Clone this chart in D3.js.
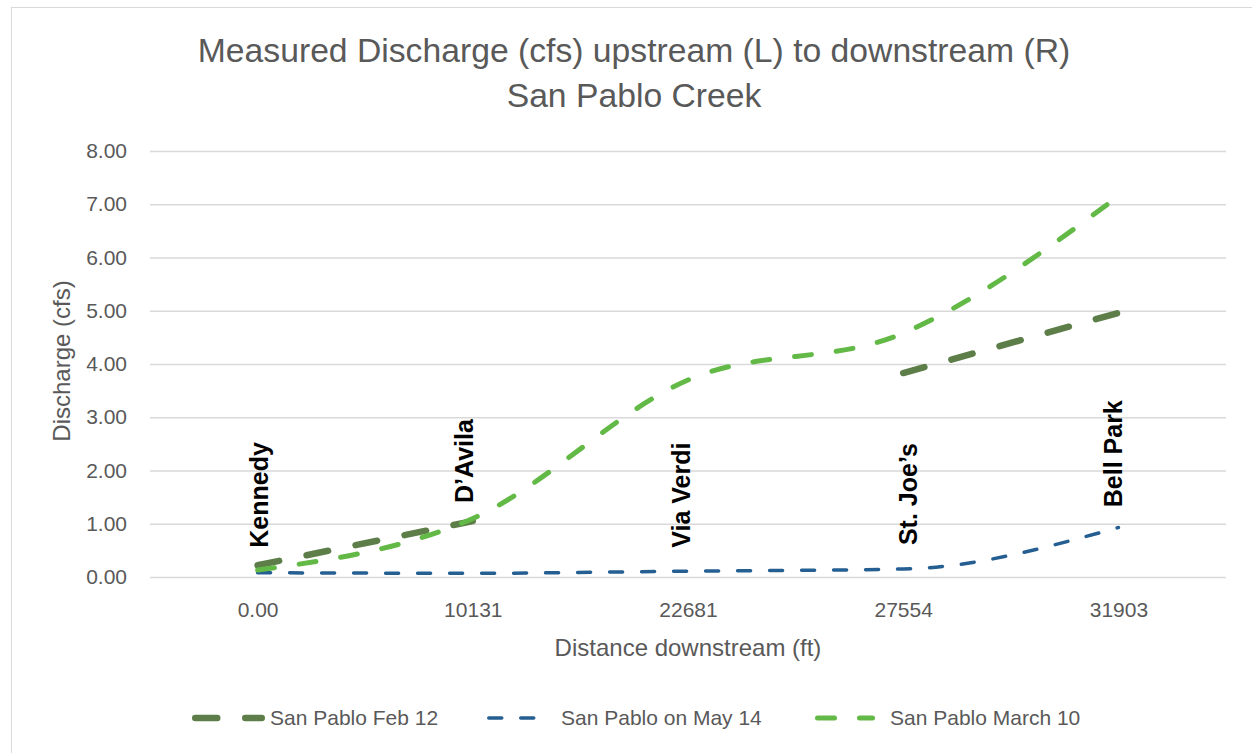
<!DOCTYPE html>
<html>
<head>
<meta charset="utf-8">
<script src="https://cdn.jsdelivr.net/npm/d3@7"></script>
<style>
  body { margin: 0; background: #fff; }
  svg text { font-family: "Liberation Sans", Arial, sans-serif; }
</style>
</head>
<body>
<div id="chart"></div>
<script>

// data
var distances = ["0.00", "10131", "22681", "27554", "31903"];
var stations = ["Kennedy", "D\u2019Avila", "Via Verdi", "St. Joe\u2019s", "Bell Park"];
var feb12 = [0.22, 1.05, null, 3.83, 4.96];
var may14 = [0.08, 0.07, 0.11, 0.15, 0.93];
var mar10 = [0.13, 1.10, 3.70, 4.58, 7.15];
var yTicks = [0, 1, 2, 3, 4, 5, 6, 7, 8];

var series = [
  { name: "San Pablo Feb 12", values: feb12, color: "#5d7e49", width: 6.5, dash: "22,28", legendX: 192, legendW: 73, textX: 270 },
  { name: "San Pablo on May 14", values: may14, color: "#255e91", width: 3.5, dash: "13,19", legendX: 487, legendW: 66, textX: 561 },
  { name: "San Pablo March 10", values: mar10, color: "#62b946", width: 5, dash: "17,25", legendX: 815, legendW: 60, textX: 890 }
];

// station label placement (bottom of text in data units, baseline shift in px)
var labelBottom = [0.55, 1.39, 0.55, 0.60, 1.31];
var labelDx = [10, 0, 2, 14, 4];

var margin = { left: 150, right: 26, top: 151, bottom: 176 };
var W = 1252, H = 753;
var width = W - margin.left - margin.right;
var height = H - margin.top - margin.bottom;

var svg = d3.select("#chart").append("svg")
  .attr("width", W)
  .attr("height", H);

// chart border
svg.append("rect")
  .attr("x", 11.5).attr("y", 7.5)
  .attr("width", 1400).attr("height", 900)
  .attr("fill", "none")
  .attr("stroke", "#d9d9d9")
  .attr("stroke-width", 1);

var g = svg.append("g")
  .attr("transform", "translate(" + margin.left + "," + margin.top + ")");

var x = d3.scalePoint()
  .domain(d3.range(distances.length))
  .range([0, width])
  .padding(0.5);

var y = d3.scaleLinear()
  .domain([0, 8])
  .range([height, 0]);

// gridlines
g.append("g")
  .attr("class", "grid")
  .call(d3.axisLeft(y).tickValues(yTicks).tickSize(-width).tickFormat(""))
  .call(function (s) {
    s.select(".domain").remove();
    s.selectAll("line").attr("stroke", "#d9d9d9").attr("stroke-width", 1.5);
  });

// y tick labels
g.append("g")
  .call(d3.axisLeft(y).tickValues(yTicks).tickSize(0).tickPadding(23).tickFormat(d3.format(".2f")))
  .call(function (s) {
    s.select(".domain").remove();
    s.selectAll("text").attr("fill", "#595959").style("font-size", "21px")
      .attr("font-family", "Liberation Sans, Arial, sans-serif");
  });

// x tick labels
g.append("g")
  .attr("transform", "translate(0," + height + ")")
  .call(d3.axisBottom(x).tickSize(0).tickPadding(25).tickFormat(function (i) { return distances[i]; }))
  .call(function (s) {
    s.select(".domain").remove();
    s.selectAll("text").attr("fill", "#595959").style("font-size", "21px")
      .attr("font-family", "Liberation Sans, Arial, sans-serif");
  });

// lines (smoothed)
var line = d3.line()
  .defined(function (d) { return d != null; })
  .x(function (d, i) { return x(i); })
  .y(function (d) { return y(d); })
  .curve(d3.curveMonotoneX);

series.forEach(function (s) {
  g.append("path")
    .attr("d", line(s.values))
    .attr("fill", "none")
    .attr("stroke", s.color)
    .attr("stroke-width", s.width)
    .attr("stroke-dasharray", s.dash)
    .attr("stroke-linecap", "round");
});

// station labels
g.selectAll(".station")
  .data(stations).enter()
  .append("text")
  .attr("class", "station")
  .attr("transform", function (d, i) {
    return "translate(" + (x(i) + labelDx[i]) + "," + y(labelBottom[i]) + ") rotate(-90)";
  })
  .attr("fill", "#000")
  .style("font-size", "25px")
  .style("font-weight", "bold")
  .text(function (d) { return d; });

// title
svg.append("text")
  .attr("x", 634).attr("y", 62)
  .attr("text-anchor", "middle")
  .attr("fill", "#595959")
  .style("font-size", "33.7px")
  .text("Measured Discharge (cfs) upstream (L) to downstream (R)");

svg.append("text")
  .attr("x", 634).attr("y", 107)
  .attr("text-anchor", "middle")
  .attr("fill", "#595959")
  .style("font-size", "33.7px")
  .text("San Pablo Creek");

// axis titles
svg.append("text")
  .attr("x", margin.left + width / 2).attr("y", 656)
  .attr("text-anchor", "middle")
  .attr("fill", "#595959")
  .style("font-size", "24px")
  .text("Distance downstream (ft)");

svg.append("text")
  .attr("transform", "translate(69.5,361) rotate(-90)")
  .attr("text-anchor", "middle")
  .attr("fill", "#595959")
  .style("font-size", "24px")
  .text("Discharge (cfs)");

// legend
var legend = svg.append("g").attr("class", "legend");

series.forEach(function (s) {
  legend.append("line")
    .attr("x1", s.legendX + s.width / 2)
    .attr("x2", s.legendX + s.legendW - s.width / 2)
    .attr("y1", 718).attr("y2", 718)
    .attr("stroke", s.color)
    .attr("stroke-width", s.width)
    .attr("stroke-dasharray", s.dash)
    .attr("stroke-linecap", "round");

  legend.append("text")
    .attr("x", s.textX).attr("y", 725)
    .attr("fill", "#595959")
    .style("font-size", "21px")
    .text(s.name);
});

</script>
</body>
</html>
